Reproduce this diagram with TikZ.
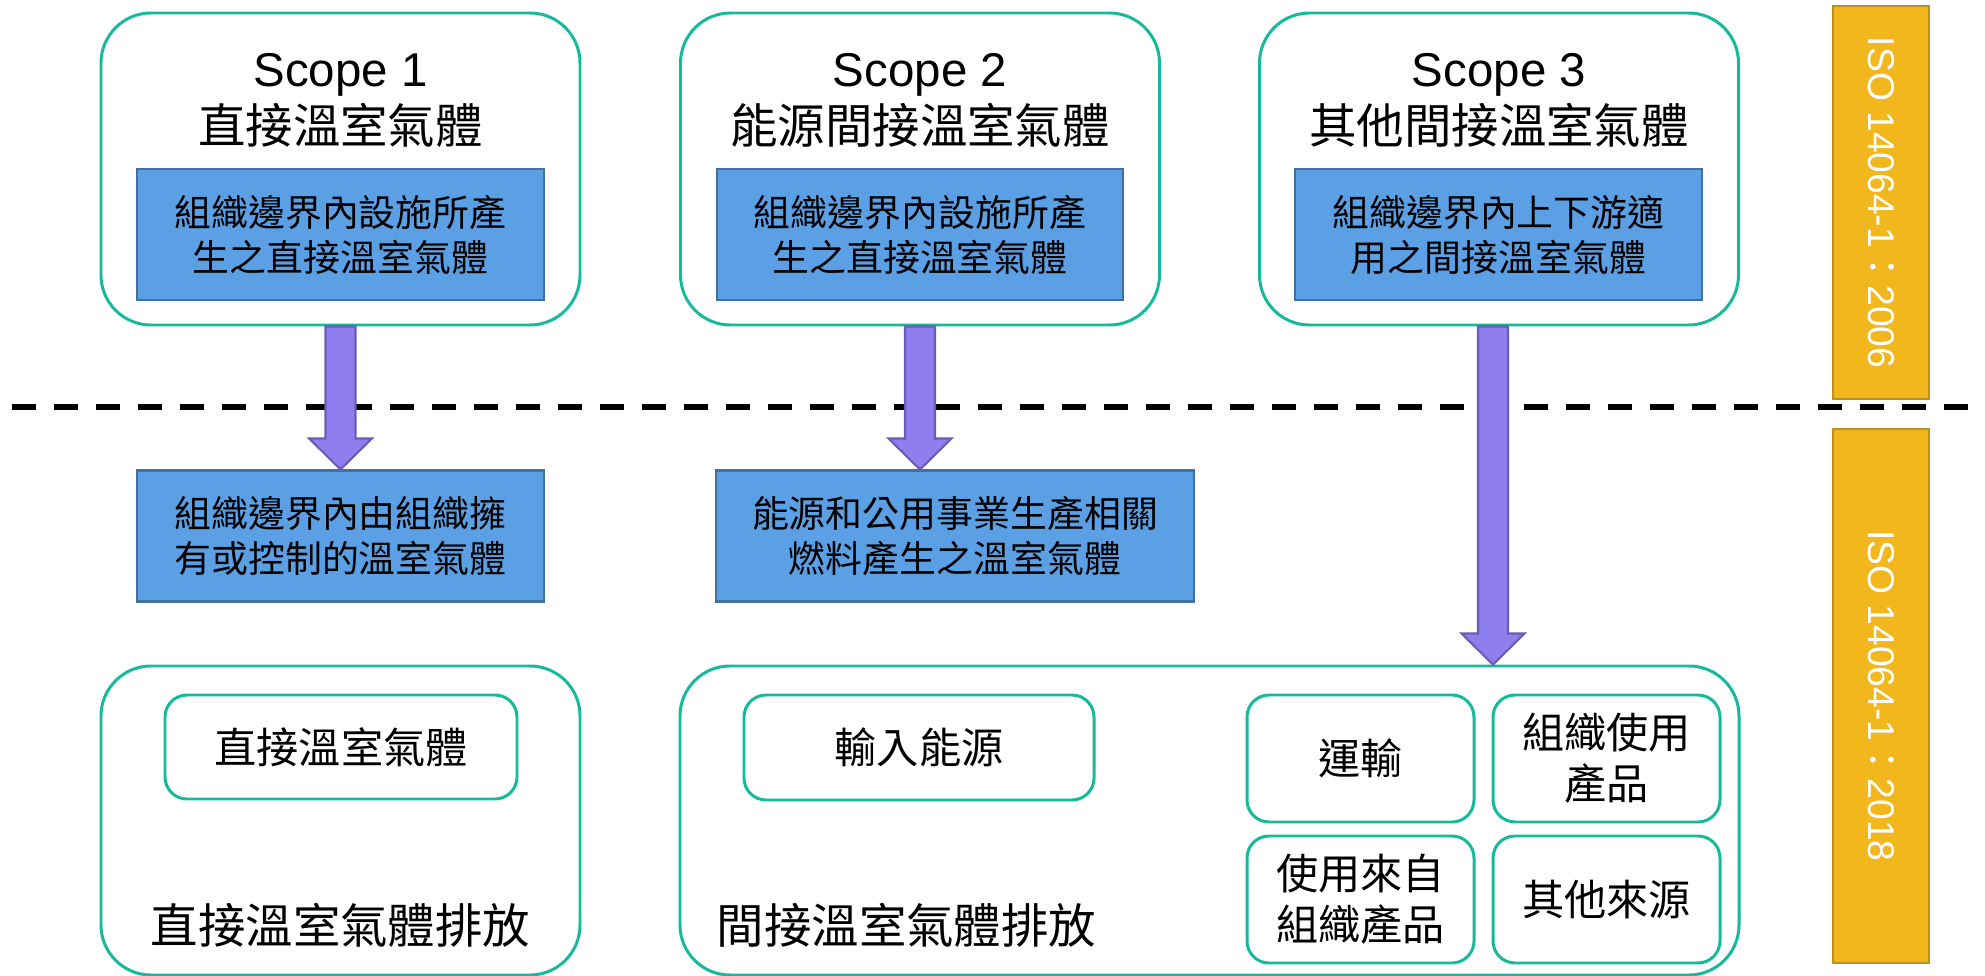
\documentclass[tikz,border=0pt]{standalone}
\usepackage{fontspec}
\setmainfont{Noto Sans CJK TC}
\newfontfamily\latinfont{Liberation Sans}
\usepackage{xcolor}
\usetikzlibrary{positioning, calc}

\definecolor{scopegreen}{RGB}{22,186,154}
\definecolor{boxblue}{RGB}{91,160,229}
\definecolor{boxblueline}{RGB}{65,113,156}
\definecolor{arrowpurple}{RGB}{142,126,238}
\definecolor{arrowline}{RGB}{108,91,181}
\definecolor{isoyellow}{RGB}{242,183,28}
\definecolor{isoline}{RGB}{188,143,32}

\newcommand{\titlefont}{\fontsize{13.5pt}{16.2pt}\selectfont}
\newcommand{\bluefont}{\fontsize{10.5pt}{12.8pt}\selectfont}
\newcommand{\tagfont}{\fontsize{12pt}{14.5pt}\selectfont}
\newcommand{\isofont}{\fontsize{10.6pt}{12pt}\selectfont}

% fat block arrow from #1 down to the tip #2
\newcommand{\fatarrow}[2]{%
  \draw[fat] ($(#1)+(-0.15,0)$) -- ($(#2)+(-0.15,0.31)$) -- ($(#2)+(-0.315,0.31)$) -- (#2)
    -- ($(#2)+(0.315,0.31)$) -- ($(#2)+(0.15,0.31)$) -- ($(#1)+(0.15,0)$) -- cycle;}

\begin{document}
\begin{tikzpicture}[
        scopebox/.style={draw=scopegreen, line width=0.85pt, rounded corners=0.5cm, fill=white, minimum width=4.79cm, minimum height=3.12cm},
        title/.style={align=center, font=\titlefont},
        bluebox/.style={draw=boxblueline, fill=boxblue, line width=0.6pt, minimum height=1.31cm, align=center, font=\bluefont},
        tagbox/.style={draw=scopegreen, line width=0.85pt, rounded corners=0.22cm, fill=white, align=center, font=\tagfont},
        isobox/.style={draw=isoline, fill=isoyellow, line width=0.6pt, minimum height=0.96cm, text=white, font=\isofont, rotate=-90},
        fat/.style={draw=arrowline, fill=arrowpurple, line width=0.6pt},
        sep/.style={line width=1.7pt, dash pattern=on 0.24cm off 0.18cm}
    ]
        \useasboundingbox (0,0) rectangle (19.85,-9.76);

        % ISO 14064-1:2006 scopes
        \node[scopebox] (s1) at (3.405,-1.69) {};
        \node[title] at (3.405,-1.00) {{\latinfont Scope 1}\\直接溫室氣體};
        \node[bluebox, minimum width=4.07cm] (i1) at (3.405,-2.345) {組織邊界內設施所產\\生之直接溫室氣體};

        \node[scopebox] (s2) at (9.20,-1.69) {};
        \node[title] at (9.20,-1.00) {{\latinfont Scope 2}\\能源間接溫室氣體};
        \node[bluebox, minimum width=4.06cm] (i2) at (9.20,-2.345) {組織邊界內設施所產\\生之直接溫室氣體};

        \node[scopebox] (s3) at (14.99,-1.69) {};
        \node[title] at (14.99,-1.00) {{\latinfont Scope 3}\\其他間接溫室氣體};
        \node[bluebox, minimum width=4.07cm] (i3) at (14.985,-2.345) {組織邊界內上下游適\\用之間接溫室氣體};

        % ISO 14064-1:2018 categories
        \node[bluebox, minimum width=4.07cm] (b1) at (3.405,-5.36) {組織邊界內由組織擁\\有或控制的溫室氣體};
        \node[bluebox, minimum width=4.78cm] (b2) at (9.55,-5.36) {能源和公用事業生產相關\\燃料產生之溫室氣體};

        \node[scopebox, minimum height=3.09cm] (d1) at (3.405,-8.205) {};
        \node[tagbox, minimum width=3.52cm, minimum height=1.04cm] (dg) at (3.41,-7.47) {直接溫室氣體};
        \node[font=\titlefont] at (3.405,-9.25) {直接溫室氣體排放};

        \node[scopebox, minimum width=10.59cm, minimum height=3.09cm] (d2) at (12.095,-8.205) {};
        \node[tagbox, minimum width=3.50cm, minimum height=1.05cm] (ie) at (9.19,-7.475) {輸入能源};
        \node[font=\titlefont, anchor=west, inner sep=0pt] at (7.16,-9.25) {間接溫室氣體排放};
        \node[tagbox, minimum width=2.27cm, minimum height=1.27cm] (tr) at (13.605,-7.585) {運輸};
        \node[tagbox, minimum width=2.27cm, minimum height=1.27cm] (up) at (16.065,-7.585) {組織使用\\產品};
        \node[tagbox, minimum width=2.27cm, minimum height=1.27cm] (fp) at (13.605,-8.995) {使用來自\\組織產品};
        \node[tagbox, minimum width=2.27cm, minimum height=1.27cm] (os) at (16.065,-8.995) {其他來源};

        % standard labels
        \node[isobox, minimum width=3.93cm] (iso1) at (18.81,-2.025) {{\latinfont ISO 14064-1}：{\latinfont 2006}};
        \node[isobox, minimum width=5.34cm] (iso2) at (18.81,-6.96) {{\latinfont ISO 14064-1}：{\latinfont 2018}};

        % dividing line between the two editions
        \coordinate (l0) at (0.12,-4.07);
        \coordinate (l1) at (19.68,-4.07);
        \draw[sep] (l0) -- (l1);

        % arrows
        \coordinate (t2) at (s2.south |- b2.north);
        \coordinate (t3) at ($(s3.south |- d2.north)+(-0.06,0)$);
        \fatarrow{s1.south}{b1.north}
        \fatarrow{s2.south}{t2}
        \fatarrow{$(s3.south)+(-0.06,0)$}{t3}
    \end{tikzpicture}
\end{document}
